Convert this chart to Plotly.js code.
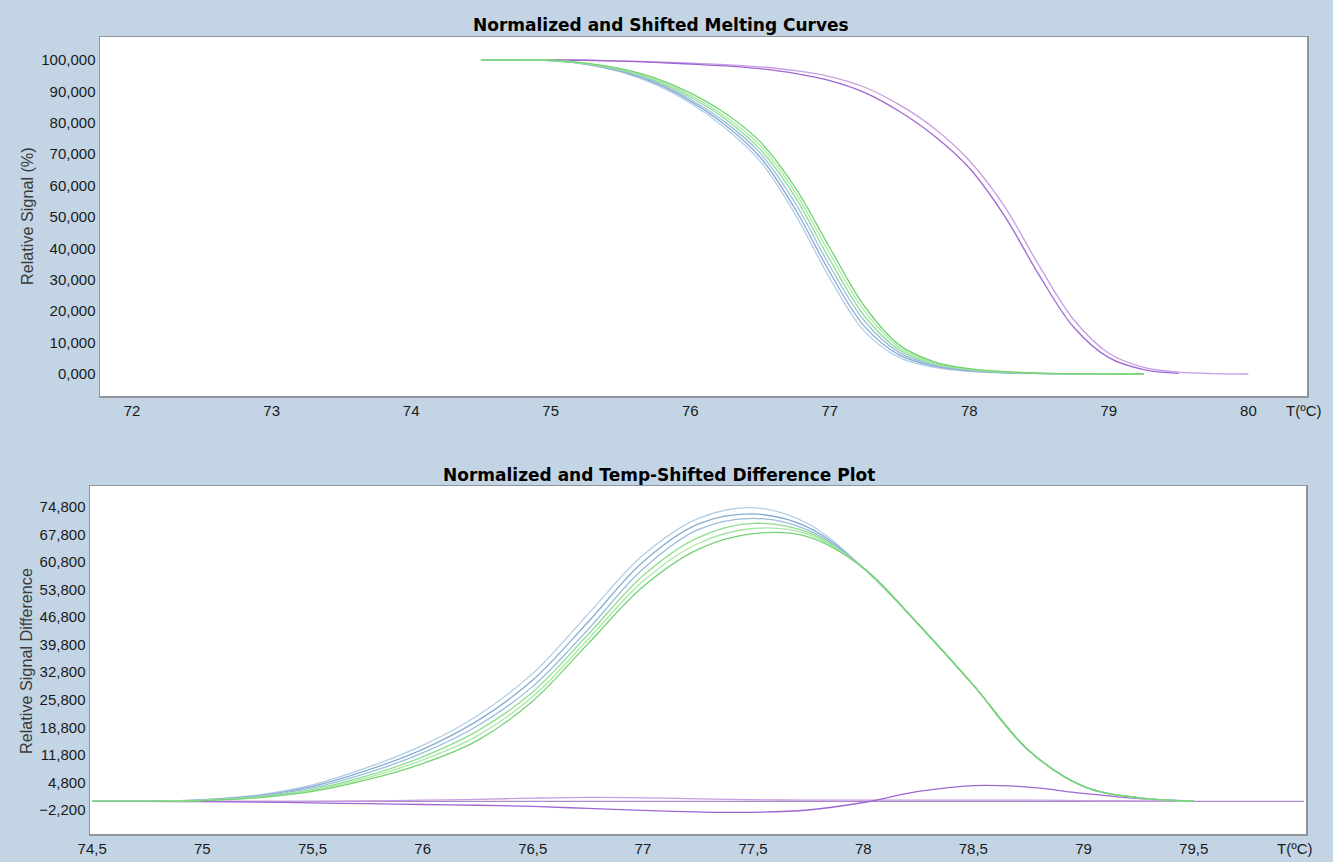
<!DOCTYPE html>
<html>
<head>
<meta charset="utf-8">
<script src="https://cdn.plot.ly/plotly-3.0.1.min.js"></script>
<style>
html,body{margin:0;padding:0;background:#c3d5e5;}
#chart{width:1333px;height:862px;}
</style>
</head>
<body>
<div id="chart"></div>
<script>
// ---------- Top panel: Normalized and Shifted Melting Curves ----------
const meltT_bg = [74.5,74.75,75,75.25,75.5,75.75,76,76.25,76.5,76.75,77,77.25,77.5,77.75,78,78.25,78.5,78.75,79,79.25];
const meltBlue1 = [100,100,99.8,98.6,96.2,92.2,86.3,78.3,67.8,51,30.5,13.5,5.2,2.1,0.85,0.33,0.12,0.03,0,0];
const meltBlue2 = [100,100,99.8,98.7,96.4,92.6,86.9,79.3,69.1,52.7,32.4,15.1,6,2.5,1,0.4,0.15,0.04,0,0];
const meltBlue3 = [100,100,99.8,98.8,96.6,93,87.5,80.2,70.4,54.6,34.4,16.8,6.8,2.8,1.2,0.5,0.18,0.06,0.01,0];
const meltGreen1 = [100,100,99.9,98.8,96.8,93.4,88.2,81.2,71.6,56.5,36.4,18.4,7.6,3.2,1.4,0.6,0.22,0.08,0.01,0];
const meltGreen2 = [100,100,99.9,98.9,97,93.8,88.8,82,72.8,58,38.3,20,8.4,3.6,1.55,0.68,0.26,0.09,0.02,0];
const meltGreen3 = [100,100,99.9,99,97.2,94.2,89.5,83,74,59.5,40.2,21.5,9.2,3.9,1.7,0.75,0.3,0.1,0.02,0];
const meltT_p1 = [74.5,74.75,75,75.25,75.5,75.75,76,76.25,76.5,76.75,77,77.25,77.5,77.75,78,78.25,78.5,78.75,79,79.25,79.5];
const meltPurple1 = [100,100,100,99.9,99.6,99.2,98.7,98.1,97.2,95.7,93.4,89.6,83.6,75.8,65.6,50.5,31.5,14.8,5.2,1.4,0.2];
const meltT_p2 = [74.5,74.75,75,75.25,75.5,75.75,76,76.25,76.5,76.75,77,77.25,77.5,77.75,78,78.25,78.5,78.75,79,79.25,79.5,79.75,80];
const meltPurple2 = [100,100,100,99.9,99.7,99.4,99,98.5,97.8,96.6,94.7,91.3,85.7,78.2,68,53.5,34.5,17.2,6.6,2.1,0.6,0.12,0];

// ---------- Bottom panel: Normalized and Temp-Shifted Difference Plot ----------
const diffT_bg = [74.5,74.75,75,75.25,75.5,75.75,76,76.25,76.5,76.75,77,77.25,77.5,77.75,78,78.25,78.5,78.75,79,79.25,79.5];
const diffBlue1 = [0,0,0.4,1.6,4.2,8.6,14.2,21.8,32.5,47.5,62.5,71.8,74.6,70.5,59.3,45,29.5,13,3.8,0.9,0.1];
const diffBlue2 = [0,0,0.35,1.4,3.8,7.9,13.2,20.5,30.8,45.5,60.8,70.4,73,69.6,59.3,45,29.5,13,3.8,0.9,0.1];
const diffBlue3 = [0,0,0.3,1.25,3.4,7.2,12.3,19.2,29.2,43.6,59,69,71.9,68.9,59.3,45,29.5,13,3.8,0.9,0.1];
const diffGreen1 = [0,0,0.26,1.1,3,6.5,11.3,17.9,27.8,42.3,57.3,67,70.6,68.3,59.3,45,29.5,13,3.8,0.9,0.1];
const diffGreen2 = [0,0,0.23,1,2.75,6,10.5,16.7,26.6,41.1,55.9,65.5,69.3,67.8,59.3,45,29.5,13,3.8,0.9,0.1];
const diffGreen3 = [0,0,0.2,0.9,2.5,5.5,9.6,15.5,25.5,40,54.5,64,68,67.2,59.3,45,29.5,13,3.8,0.9,0.1];
const diffPurpleDip = [0,0,-0.1,-0.2,-0.4,-0.6,-0.8,-1,-1.3,-1.8,-2.3,-2.7,-2.8,-2.2,-0.3,2.5,4,3.6,2,0.7,0.1];
const diffPurpleBump = [0,0,0,0,0,0.1,0.3,0.5,0.8,1,0.9,0.6,0.4,0.3,0.3,0.3,0.3,0.3,0.2,0.1,0];
const diffT_ref = [74.5,75,75.5,76,76.5,77,77.5,78,78.5,79,79.5,80];
const diffPurpleRef = [0,0,0,0,0,0,0,0,0,0,0,0];

// ---------- Tick labels ----------
const topXTicks = [72,73,74,75,76,77,78,79,80];
const topYTicks = [0,10,20,30,40,50,60,70,80,90,100];
const botXTicks = [74.5,75,75.5,76,76.5,77,77.5,78,78.5,79,79.5];
const botYTicks = [-2.2,4.8,11.8,18.8,25.8,32.8,39.8,46.8,53.8,60.8,67.8,74.8];

const colBlue = ['#9cbddb','#86acd4','#b2cde5'];
const colGreen = ['#8edd8e','#74d274','#a6e8a6'];
const colPurple = ['#a066d2','#c79ee2'];

function line(x, y, color, xa, ya, w) {
  return {x: x, y: y, type: 'scatter', mode: 'lines', xaxis: xa, yaxis: ya,
    line: {color: color, width: w || 1.3, shape: 'spline', smoothing: 1},
    hoverinfo: 'x+y', showlegend: false};
}

const traces = [
  line(meltT_p2, meltPurple2, colPurple[1], 'x', 'y'),
  line(meltT_p1, meltPurple1, colPurple[0], 'x', 'y'),
  line(meltT_bg, meltBlue1, colBlue[2], 'x', 'y'),
  line(meltT_bg, meltBlue2, colBlue[1], 'x', 'y'),
  line(meltT_bg, meltBlue3, colBlue[0], 'x', 'y'),
  line(meltT_bg, meltGreen1, colGreen[0], 'x', 'y'),
  line(meltT_bg, meltGreen2, colGreen[2], 'x', 'y'),
  line(meltT_bg, meltGreen3, colGreen[1], 'x', 'y'),

  line(diffT_ref, diffPurpleRef, '#a88cc8', 'x2', 'y2'),
  line(diffT_bg, diffPurpleBump, colPurple[1], 'x2', 'y2'),
  line(diffT_bg, diffPurpleDip, colPurple[0], 'x2', 'y2'),
  line(diffT_bg, diffBlue1, colBlue[2], 'x2', 'y2'),
  line(diffT_bg, diffBlue2, colBlue[1], 'x2', 'y2'),
  line(diffT_bg, diffBlue3, colBlue[0], 'x2', 'y2'),
  line(diffT_bg, diffGreen1, colGreen[0], 'x2', 'y2'),
  line(diffT_bg, diffGreen2, colGreen[2], 'x2', 'y2'),
  line(diffT_bg, diffGreen3, colGreen[1], 'x2', 'y2')
];

const tickFont = {family: 'Liberation Sans, Arial, sans-serif', size: 15, color: '#1a1a1a'};
const titleFont = {family: 'DejaVu Sans, sans-serif', size: 17, color: '#000000', weight: 'bold'};
const axTitleFont = {family: 'Liberation Sans, Arial, sans-serif', size: 16.2, color: '#3a3a3a'};

const baseAxis = {
  showgrid: false, zeroline: false, showline: true, mirror: true,
  linecolor: '#8f959c', linewidth: 1.5, ticks: '', tickfont: tickFont,
  fixedrange: true
};

const layout = {
  width: 1333, height: 862,
  paper_bgcolor: '#c3d5e5', plot_bgcolor: '#ffffff',
  margin: {l: 0, r: 0, t: 0, b: 0},
  separators: ',.',
  showlegend: false,
  xaxis: Object.assign({}, baseAxis, {
    domain: [100/1333, 1307/1333], range: [71.77, 80.42], anchor: 'y',
    tickmode: 'array', tickvals: topXTicks, ticktext: topXTicks.map(String)
  }),
  yaxis: Object.assign({}, baseAxis, {
    domain: [1 - 396/862, 1 - 37/862], range: [-7.0, 107.3], anchor: 'x',
    tickmode: 'array', tickvals: topYTicks, tickformat: '.3f'
  }),
  xaxis2: Object.assign({}, baseAxis, {
    domain: [90/1333, 1306/1333], range: [74.49, 80.01], anchor: 'y2',
    tickmode: 'array', tickvals: botXTicks, tickformat: ''
  }),
  yaxis2: Object.assign({}, baseAxis, {
    domain: [1 - 834/862, 1 - 486/862], range: [-8.3, 80.1], anchor: 'x2',
    tickmode: 'array', tickvals: botYTicks, tickformat: '.3f'
  }),
  annotations: [
    {text: 'Normalized and Shifted Melting Curves', xref: 'paper', yref: 'paper',
     x: 661/1333, y: 1 - 25/862, xanchor: 'center', yanchor: 'middle', showarrow: false, font: titleFont},
    {text: 'Normalized and Temp-Shifted Difference Plot', xref: 'paper', yref: 'paper',
     x: 659/1333, y: 1 - 475/862, xanchor: 'center', yanchor: 'middle', showarrow: false, font: titleFont},
    {text: 'Relative Signal (%)', xref: 'paper', yref: 'paper', textangle: -90,
     x: 27/1333, y: 1 - 216/862, xanchor: 'center', yanchor: 'middle', showarrow: false, font: axTitleFont},
    {text: 'Relative Signal Difference', xref: 'paper', yref: 'paper', textangle: -90,
     x: 26/1333, y: 1 - 661/862, xanchor: 'center', yanchor: 'middle', showarrow: false, font: axTitleFont},
    {text: 'T(ºC)', xref: 'paper', yref: 'paper',
     x: 1303/1333, y: 1 - 410/862, xanchor: 'center', yanchor: 'middle', showarrow: false, font: tickFont},
    {text: 'T(ºC)', xref: 'paper', yref: 'paper',
     x: 1294/1333, y: 1 - 848/862, xanchor: 'center', yanchor: 'middle', showarrow: false, font: tickFont}
  ]
};

Plotly.newPlot('chart', traces, layout, {displayModeBar: false, staticPlot: true});
</script>
</body>
</html>
